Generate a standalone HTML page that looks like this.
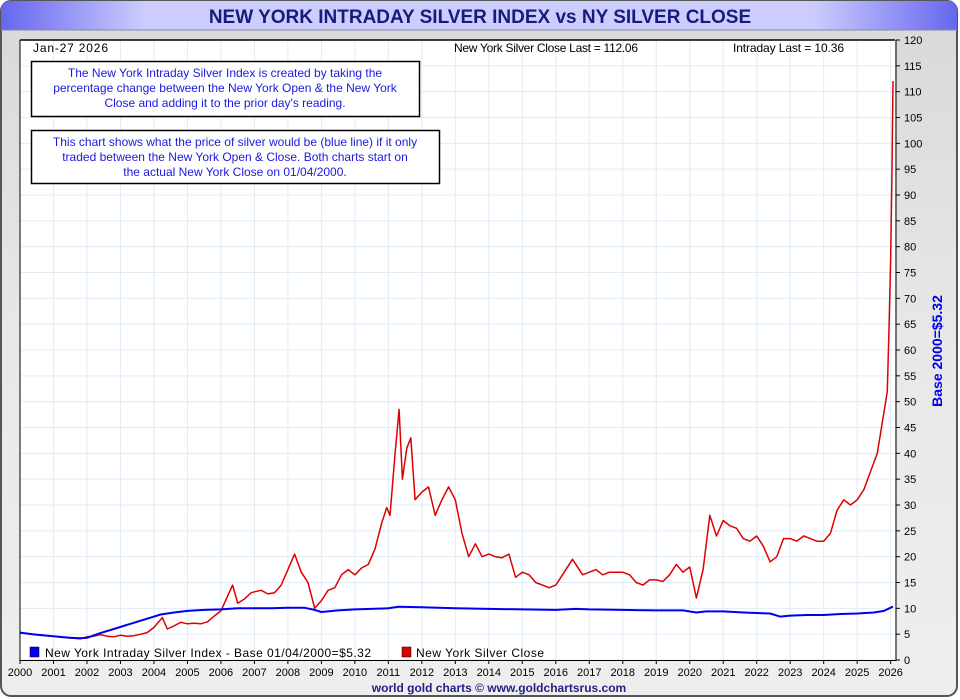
<!DOCTYPE html>
<html><head><meta charset="utf-8">
<style>
html,body{margin:0;padding:0;width:960px;height:700px;overflow:hidden;background:#fff;font-family:"Liberation Sans",sans-serif}
</style></head>
<body>
<svg id="chart" width="960" height="700" xmlns="http://www.w3.org/2000/svg">
<defs>
<linearGradient id="bg" x1="0" y1="0" x2="0" y2="1"><stop offset="0" stop-color="#d8d8d8"/><stop offset="0.5" stop-color="#e8e8e8"/><stop offset="1" stop-color="#eeeeee"/></linearGradient>
<linearGradient id="tb" x1="0" y1="0" x2="1" y2="0"><stop offset="0" stop-color="#6666ee"/><stop offset="0.15" stop-color="#ccccff"/><stop offset="0.85" stop-color="#ccccff"/><stop offset="1" stop-color="#6666ee"/></linearGradient>
</defs>
<rect x="1" y="1" width="956" height="695" rx="10" fill="url(#bg)" stroke="#555" stroke-width="2"/>
<path d="M1,30 L1,11 Q1,1 11,1 L947,1 Q957,1 957,11 L957,30 Z" fill="url(#tb)"/>
<line x1="1" y1="30" x2="957" y2="30" stroke="#8888aa" stroke-width="1"/>
<text x="480" y="23" text-anchor="middle" font-size="19" font-weight="bold" fill="#1a1a7a">NEW YORK INTRADAY SILVER INDEX vs NY SILVER CLOSE</text>
<rect x="20" y="40" width="875" height="620" fill="#fff"/>
<g id="grid"></g>
<g id="series"></g>
<line x1="20" y1="40" x2="895" y2="40" stroke="#000" stroke-width="1.5"/>
<line x1="20" y1="40" x2="20" y2="660" stroke="#000" stroke-width="1"/>
<line x1="896" y1="40" x2="896" y2="661" stroke="#000" stroke-width="1"/>
<line x1="20" y1="660.5" x2="896" y2="660.5" stroke="#000" stroke-width="1"/>
<g id="axes" font-size="11" fill="#000"></g>
<text x="33" y="52" font-size="12" textLength="75">Jan-27  2026</text>
<text x="454" y="52" font-size="12" textLength="184">New York Silver Close Last = 112.06</text>
<text x="733" y="52" font-size="12" textLength="111">Intraday Last = 10.36</text>
<g>
<rect x="31.5" y="61.5" width="388" height="55" fill="#fff" stroke="#000" stroke-width="1.5"/>
<text font-size="12" fill="#1a1adf" text-anchor="middle"><tspan x="225" y="77">The New York Intraday Silver Index is created by taking the</tspan><tspan x="225" y="92">percentage change between the New York Open &amp; the New York</tspan><tspan x="225" y="107">Close and adding it to the prior day's reading.</tspan></text>
</g>
<g>
<rect x="31.5" y="130.5" width="408" height="53" fill="#fff" stroke="#000" stroke-width="1.5"/>
<text font-size="12" fill="#1a1adf" text-anchor="middle"><tspan x="235" y="146">This chart shows what the price of silver would be (blue line) if it only</tspan><tspan x="235" y="161">traded between the New York Open &amp; Close. Both charts start on</tspan><tspan x="235" y="176">the actual New York Close on 01/04/2000.</tspan></text>
</g>
<g>
<rect x="30" y="647" width="9" height="10" fill="#0000ee" stroke="#000" stroke-width="0.5"/>
<text x="45" y="657" font-size="12" textLength="326">New York Intraday Silver Index - Base 01/04/2000=$5.32</text>
<rect x="402" y="647" width="9" height="10" fill="#dd0000" stroke="#000" stroke-width="0.5"/>
<text x="416" y="657" font-size="12" textLength="128">New York Silver Close</text>
</g>
<text x="0" y="0" transform="translate(942,351) rotate(-90)" text-anchor="middle" font-size="14" font-weight="bold" fill="#0000ee">Base 2000=$5.32</text>
<text x="499" y="692" text-anchor="middle" font-size="12" font-weight="bold" fill="#222288">world gold charts © www.goldchartsrus.com</text>
</svg>
<script>
const yearTicks = [2000,2001,2002,2003,2004,2005,2006,2007,2008,2009,2010,2011,2012,2013,2014,2015,2016,2017,2018,2019,2020,2021,2022,2023,2024,2025,2026];
const valueTicks = [0,5,10,15,20,25,30,35,40,45,50,55,60,65,70,75,80,85,90,95,100,105,110,115,120];
const closeTimes = [
2000.0,2000.2,2000.4,2000.6,2000.8,
2001.0,2001.2,2001.4,2001.6,2001.8,
2002.0,2002.2,2002.4,2002.6,2002.8,
2003.0,2003.2,2003.4,2003.6,2003.8,
2004.0,2004.25,2004.4,2004.6,2004.8,
2005.0,2005.2,2005.4,2005.6,2005.8,
2006.0,2006.35,2006.5,2006.7,2006.9,
2007.0,2007.2,2007.4,2007.6,2007.8,
2008.0,2008.2,2008.4,2008.6,2008.8,
2009.0,2009.2,2009.4,2009.6,2009.8,
2010.0,2010.2,2010.4,2010.6,2010.8,2010.95,
2011.05,2011.2,2011.32,2011.42,2011.55,2011.67,2011.8,
2012.0,2012.2,2012.4,2012.6,2012.8,
2013.0,2013.2,2013.4,2013.6,2013.8,
2014.0,2014.2,2014.4,2014.6,2014.8,
2015.0,2015.2,2015.4,2015.6,2015.8,
2016.0,2016.2,2016.5,2016.6,2016.8,
2017.0,2017.2,2017.4,2017.6,2017.8,
2018.0,2018.2,2018.4,2018.6,2018.8,
2019.0,2019.2,2019.4,2019.6,2019.8,
2020.0,2020.2,2020.4,2020.6,2020.8,
2021.0,2021.2,2021.4,2021.6,2021.8,
2022.0,2022.2,2022.4,2022.6,2022.8,
2023.0,2023.2,2023.4,2023.6,2023.8,
2024.0,2024.2,2024.4,2024.6,2024.8,
2025.0,2025.2,2025.4,2025.6,2025.8,2025.9,
2025.95,2026.0,2026.04,2026.07];
const closeValues = [
5.3,5.1,5.0,4.9,4.7,
4.6,4.4,4.3,4.2,4.1,
4.5,4.6,4.9,4.6,4.5,
4.8,4.6,4.7,5.0,5.3,
6.3,8.2,6.0,6.6,7.3,
7.0,7.1,7.0,7.4,8.5,
9.5,14.5,11.0,11.8,13.0,
13.2,13.5,12.8,13.0,14.5,
17.5,20.5,17.0,15.0,10.0,
11.5,13.5,14.0,16.5,17.5,
16.5,17.8,18.5,21.5,26.5,29.5,
28.0,40.0,48.5,35.0,41.0,43.0,31.0,
32.5,33.5,28.0,31.0,33.5,
31.0,24.5,20.0,22.5,20.0,
20.5,20.0,19.8,20.5,16.0,
17.0,16.5,15.0,14.5,14.0,
14.5,16.5,19.5,18.5,16.5,
17.0,17.5,16.5,17.0,17.0,
17.0,16.5,15.0,14.5,15.5,
15.5,15.2,16.5,18.5,17.0,
18.0,12.0,17.5,28.0,24.0,
27.0,26.0,25.5,23.5,23.0,
24.0,22.0,19.0,20.0,23.5,
23.5,23.0,24.0,23.5,23.0,
23.0,24.5,29.0,31.0,30.0,
31.0,33.0,36.5,40.0,48.0,52.0,
64.0,78.0,95.0,112.06];
const indexTimes = [2000.0,2000.5,2001.0,2001.5,2001.8,2002.0,2002.4,2002.8,2003.3,2003.8,2004.2,2004.6,2005.0,2005.5,2006.0,2006.5,2007.0,2007.5,2008.0,2008.5,2008.8,2009.0,2009.5,2010.0,2010.5,2011.0,2011.3,2012.0,2013.0,2014.0,2015.0,2016.0,2016.6,2017.0,2018.0,2019.0,2019.8,2020.2,2020.5,2021.0,2021.6,2022.0,2022.4,2022.7,2023.0,2023.5,2024.0,2024.5,2025.0,2025.5,2025.8,2026.07];
const indexValues = [5.3,4.9,4.6,4.3,4.2,4.3,5.2,6.0,7.0,8.0,8.8,9.2,9.5,9.7,9.8,10.0,10.0,10.0,10.1,10.1,9.7,9.3,9.6,9.8,9.9,10.0,10.3,10.2,10.0,9.9,9.8,9.7,9.9,9.8,9.7,9.6,9.6,9.2,9.4,9.4,9.2,9.1,9.0,8.4,8.6,8.7,8.7,8.9,9.0,9.2,9.5,10.36];

const X0=20, X1=893, Y0=660, YT=40, T0=2000, T1=2026.07;
function xs(t){return X0+(t-T0)/(T1-T0)*(X1-X0);}
function ys(v){return Y0-(v/120)*(Y0-YT);}
const NS="http://www.w3.org/2000/svg";
function mk(tag,attrs,parent){const e=document.createElementNS(NS,tag);for(const k in attrs)e.setAttribute(k,attrs[k]);parent.appendChild(e);return e;}
const grid=document.getElementById('grid'), axes=document.getElementById('axes'), series=document.getElementById('series');
valueTicks.forEach(v=>{
  const y=ys(v);
  const g=mk('line',{x1:X0,x2:895,y1:y,y2:y,stroke:'#e0ecf6','stroke-width':1},grid);
  
  
  mk('line',{x1:896,x2:900,y1:y,y2:y,stroke:'#000','stroke-width':1},axes);
  const t=mk('text',{x:904,y:y+4,'font-size':11},axes);
  t.textContent=v;
  
  
});
yearTicks.forEach(yr=>{
  const x=xs(yr);
  const g=mk('line',{x1:x,x2:x,y1:YT,y2:Y0,stroke:'#e0ecf6','stroke-width':1},grid);
  
  
  mk('line',{x1:x,x2:x,y1:Y0,y2:Y0+4,stroke:'#000','stroke-width':1},axes);
  const t=mk('text',{x:x,y:676,'font-size':11,'text-anchor':'middle'},axes);
  t.textContent=yr;
  
  
});
function path(ts,vs,color,name,w){
  const n=Math.min(ts.length,vs.length);
  let d='';
  for(let i=0;i<n;i++){d+=(i?'L':'M')+xs(ts[i]).toFixed(1)+','+ys(vs[i]).toFixed(1);}
  const p=mk('path',{d:d,fill:'none',stroke:color,'stroke-width':w,'stroke-linejoin':'round'},series);
  
  
}
path(closeTimes,closeValues,'#dd0000','silver-close-line',1.5);
path(indexTimes,indexValues,'#0000ee','intraday-index-line',2);
</script>
</body></html>
